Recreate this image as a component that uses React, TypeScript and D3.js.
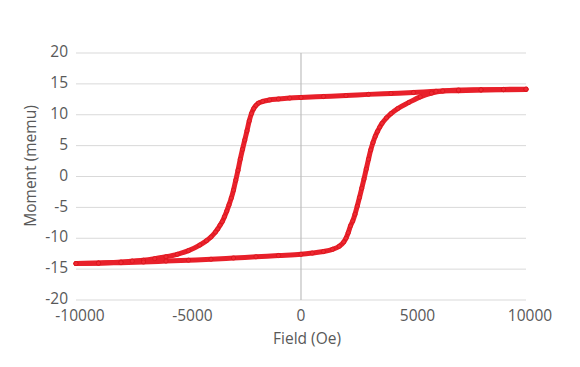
import * as d3 from "d3";

// Hysteresis loop.
// Descending sweep: +10 kOe -> -10 kOe
const downField = [
  10000, 9000, 8000, 7000, 6000, 5000, 4000, 3000, 2000, 1000, 0, -500, -1000, -1400, -1700,
  -1900, -2000, -2100, -2200, -2300, -2400, -2500, -2600, -2700, -2800, -2900, -3000, -3100,
  -3200, -3300, -3400, -3500, -3600, -3700, -3800, -4000, -4200, -4500, -5000, -5500, -6000,
  -6500, -7000, -7500, -8000, -9000, -10000,
];
const downMoment = [
  14.1, 14.05, 14.0, 13.9, 13.8, 13.6, 13.45, 13.3, 13.1, 12.95, 12.8, 12.7, 12.55, 12.4, 12.15,
  11.85, 11.5, 11.0, 10.2, 9.0, 7.4, 5.9, 4.4, 2.8, 1.0, -0.6, -2.2, -3.5,
  -4.6, -5.6, -6.5, -7.3, -7.9, -8.5, -9.0, -9.8, -10.4, -11.1, -12.0, -12.6, -13.0,
  -13.3, -13.55, -13.7, -13.85, -14.0, -14.1,
];

// Ascending sweep: -10 kOe -> +10 kOe
const upField = [
  -10000, -9000, -8000, -7000, -6000, -5000, -4000, -3000, -2000, -1000, 0, 500, 1000, 1400,
  1700, 1900, 2000, 2100, 2200, 2300, 2400, 2500, 2600, 2700, 2800, 2900, 3000, 3100, 3200,
  3300, 3400, 3500, 3600, 3800, 4000, 4300, 4800, 5300, 5800, 6300, 7000, 8000, 9000, 10000,
];
const upMoment = [
  -14.1, -14.05, -13.95, -13.85, -13.7, -13.55, -13.4, -13.2, -13.0, -12.8, -12.6, -12.4, -12.15,
  -11.8, -11.3, -10.6, -10.0, -9.1, -8.0, -7.2, -6.1, -4.8, -3.4, -1.9, -0.4, 1.2, 2.8, 4.3, 5.5,
  6.5, 7.3, 8.0, 8.6, 9.5, 10.2, 11.0, 12.0, 12.9, 13.5, 13.85, 14.0, 14.05, 14.1, 14.15,
];

const xTicks = [-10000, -5000, 0, 5000, 10000];
const yTicks = [-20, -15, -10, -5, 0, 5, 10, 15, 20];

const W = 580;
const H = 367;
const FONT = "'Open Sans', 'Noto Sans', sans-serif";
const TEXT = "#595959";

export default function App() {
  const x = d3.scaleLinear().domain([-10000, 10000]).range([76, 526]);
  const y = d3.scaleLinear().domain([-20, 20]).range([300, 53]);

  const down = downField.map((f, i) => ({ f, m: downMoment[i] }));
  const up = upField.map((f, i) => ({ f, m: upMoment[i] }));

  const line = d3
    .line<{ f: number; m: number }>()
    .x((d) => x(d.f))
    .y((d) => y(d.m))
    .curve(d3.curveMonotoneX);

  // monotone in x works for each sweep once ordered by field
  const downPath = line([...down].sort((a, b) => a.f - b.f)) ?? "";
  const upPath = line(up) ?? "";

  const [x0, x1] = x.range();

  return (
    <svg
      width={W}
      height={H}
      style={{ position: "absolute", left: 0, top: 0, background: "#fff" }}
      fontFamily={FONT}
    >
      {/* horizontal gridlines */}
      {yTicks.map((t) => (
        <line key={t} x1={x0} x2={x1} y1={y(t)} y2={y(t)} stroke="#d9d9d9" strokeWidth={1} />
      ))}
      {/* vertical axis at field = 0 */}
      <line x1={x(0)} x2={x(0)} y1={y(20)} y2={y(-20)} stroke="#bfbfbf" strokeWidth={1.2} />

      {yTicks.map((t) => (
        <text
          key={t}
          x={68}
          y={y(t)}
          textAnchor="end"
          dominantBaseline="middle"
          fontSize={15.5}
          fill={TEXT}
        >
          {t}
        </text>
      ))}
      {xTicks.map((t) => (
        <text
          key={t}
          x={x(t) + (t === 0 ? 0 : 4)}
          y={317}
          textAnchor="middle"
          dominantBaseline="middle"
          fontSize={15.5}
          fill={TEXT}
        >
          {t}
        </text>
      ))}

      <text x={307} y={340} textAnchor="middle" dominantBaseline="middle" fontSize={15.5} fill={TEXT}>
        Field (Oe)
      </text>
      <text
        transform={`translate(32,166) rotate(-90)`}
        textAnchor="middle"
        dominantBaseline="middle"
        fontSize={15.5}
        fill={TEXT}
      >
        Moment (memu)
      </text>

      {/* loop: thick line with the measured points as markers */}
      <path d={downPath} fill="none" stroke="#e8202a" strokeWidth={5} strokeLinecap="round" strokeLinejoin="round" />
      <path d={upPath} fill="none" stroke="#e8202a" strokeWidth={5} strokeLinecap="round" strokeLinejoin="round" />
      {[...down, ...up].map((d, i) => (
        <circle
          key={i}
          cx={x(d.f)}
          cy={y(d.m)}
          r={2.1}
          fill="#ee2a33"
          stroke="#d9141c"
          strokeWidth={0.8}
        />
      ))}
    </svg>
  );
}
